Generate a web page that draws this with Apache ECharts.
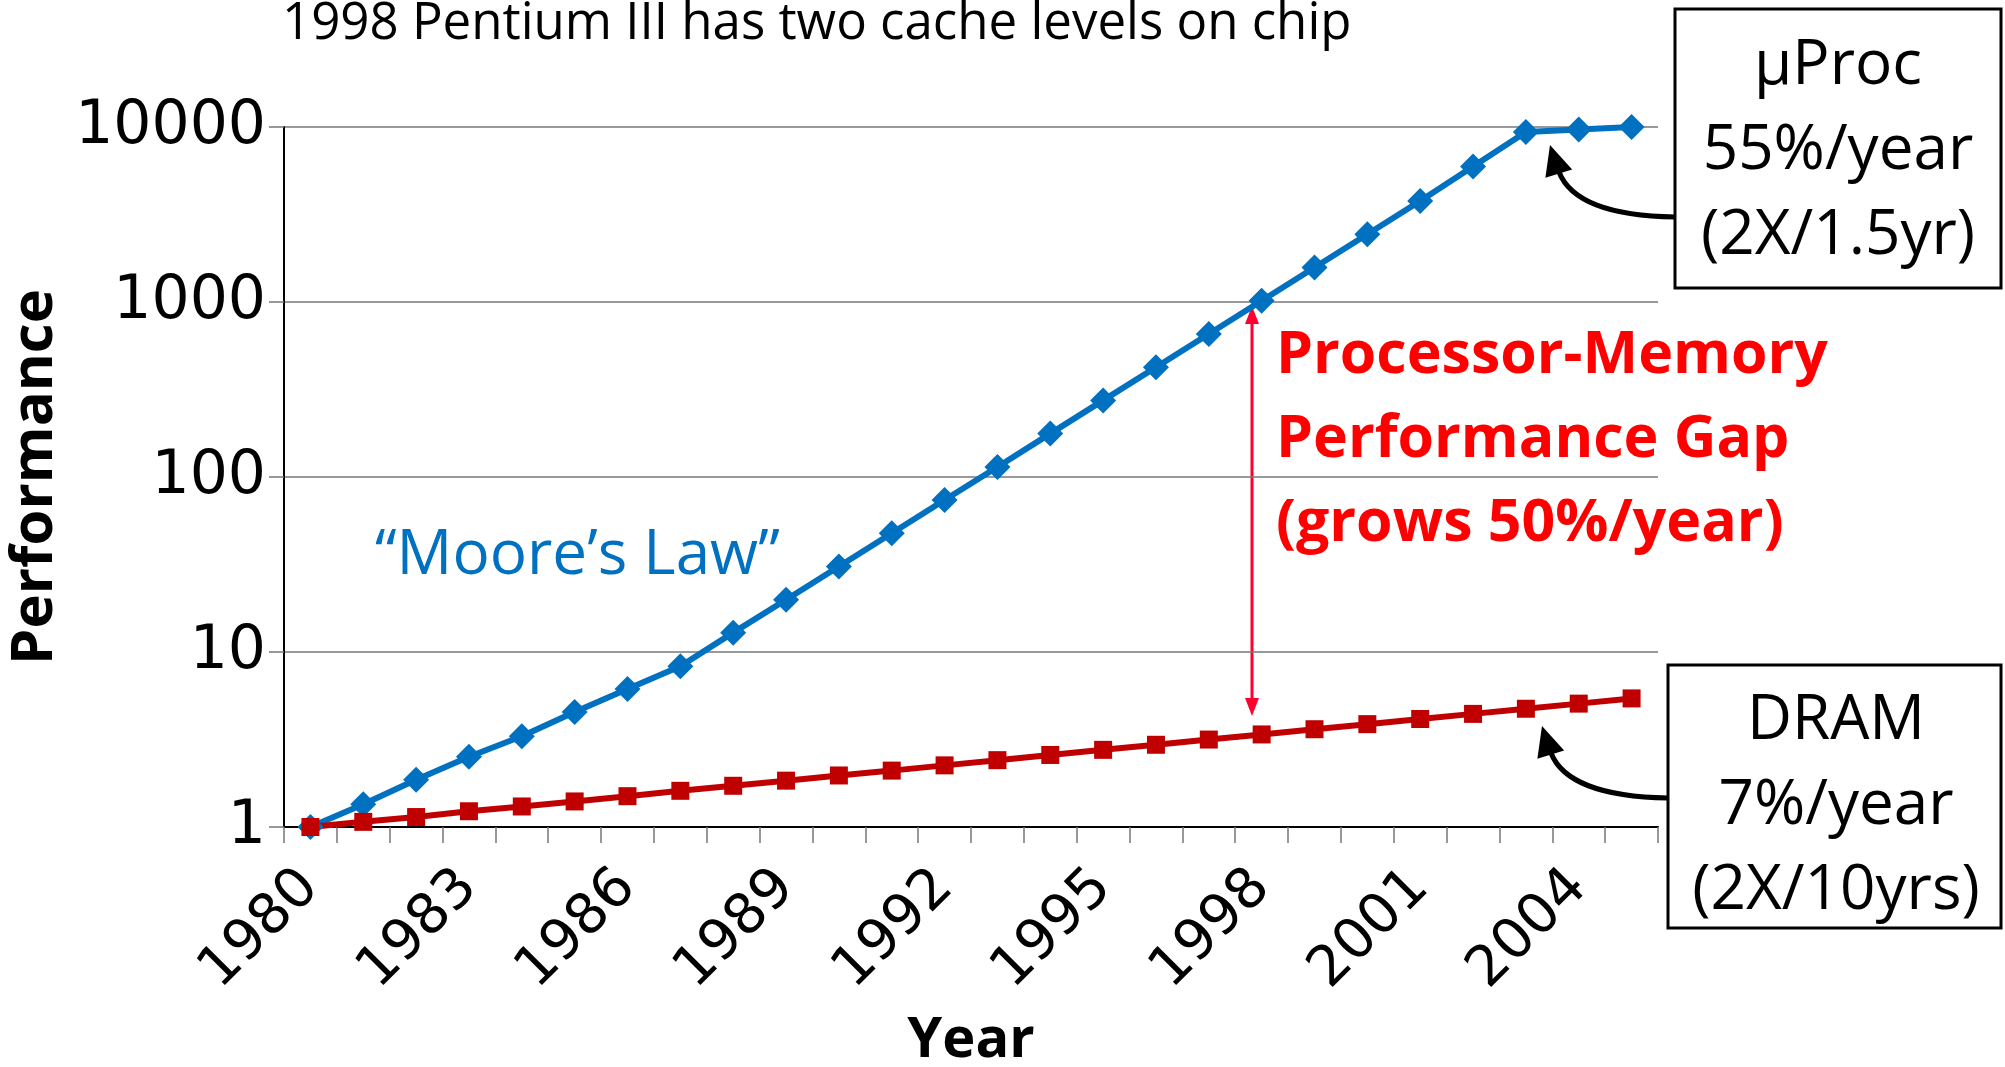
<!DOCTYPE html>
<html>
<head>
<meta charset="utf-8">
<script src="https://cdn.jsdelivr.net/npm/echarts@6/dist/echarts.min.js"></script>
<style>html,body{margin:0;padding:0;background:#fff}</style>
</head>
<body>
<div id="container" style="width: 2005px; height: 1067px"></div>
<script>
// 年份（横轴）
const years = ['1980', '1981', '1982', '1983', '1984', '1985', '1986', '1987', '1988', '1989',
  '1990', '1991', '1992', '1993', '1994', '1995', '1996', '1997', '1998', '1999',
  '2000', '2001', '2002', '2003', '2004', '2005']
// 处理器性能
const procPerf = [1, 1.35, 1.86, 2.52, 3.3, 4.54, 6.14, 8.3, 12.9, 19.9,
  30.8, 47.7, 73.9, 114, 177, 274, 424, 657, 1017, 1574,
  2437, 3774, 5940, 9350, 9670, 10000]
// DRAM 性能
const dramPerf = [1, 1.07, 1.14, 1.23, 1.31, 1.4, 1.5, 1.61, 1.72, 1.84,
  1.97, 2.1, 2.25, 2.41, 2.58, 2.76, 2.95, 3.16, 3.38, 3.62,
  3.87, 4.14, 4.43, 4.74, 5.07, 5.43]
// 纵轴刻度文字
const yTickLabels = ['1', '10', '100', '1000', '10000']

const sans = '"Open Sans", "Noto Sans", sans-serif'

// 箭头的三角形头部
function arrowHead(tx, ty, angle, len, half) {
  const a = angle * Math.PI / 180
  const dx = Math.cos(a), dy = Math.sin(a)
  const bx = tx - dx * len, by = ty - dy * len
  return [[tx, ty], [bx - dy * half, by + dx * half], [bx + dy * half, by - dx * half]]
}

var myChart = echarts.init(document.getElementById('container'))
const option = {
  backgroundColor: '#fff',
  animation: false,
  title: {
    text: '1998 Pentium III has two cache levels on chip',
    left: 277,
    top: -6,
    textStyle: { fontSize: 51, fontWeight: 'normal', color: '#000', fontFamily: sans }
  },
  grid: { left: 284, top: 127, right: 347, bottom: 240, containLabel: false, outerBoundsMode: 'none' },
  xAxis: {
    type: 'category',
    data: years,
    boundaryGap: true,
    name: 'Year',
    nameLocation: 'middle',
    nameGap: 186,
    nameTextStyle: { fontSize: 56, fontWeight: 'bold', color: '#000', fontFamily: sans },
    axisLine: { lineStyle: { color: '#000', width: 2 } },
    axisTick: { show: true, interval: 0, length: 16, lineStyle: { color: '#777', width: 1.5 } },
    axisLabel: {
      interval: 2, rotate: 45, margin: 52,
      fontSize: 56, color: '#000', fontFamily: '"DejaVu Sans", sans-serif'
    },
    splitLine: { show: false }
  },
  yAxis: {
    type: 'log',
    logBase: 10,
    min: 1,
    max: 10000,
    name: 'Performance',
    nameLocation: 'middle',
    nameGap: 214,
    nameTextStyle: { fontSize: 58, fontWeight: 'bold', color: '#000', fontFamily: sans },
    axisLine: { show: true, lineStyle: { color: '#000', width: 2 } },
    axisTick: { show: true, length: 15, lineStyle: { color: '#777', width: 1.5 } },
    axisLabel: {
      margin: 18, fontSize: 60, color: '#000', fontFamily: '"DejaVu Sans", sans-serif',
      formatter: (v) => yTickLabels[Math.round(Math.log10(v))]
    },
    splitLine: { show: true, lineStyle: { color: '#777', width: 1.5 } }
  },
  series: [
    {
      name: 'uProc',
      type: 'line',
      data: procPerf,
      clip: false,
      symbol: 'diamond',
      symbolSize: 26,
      itemStyle: { color: '#0070C0' },
      lineStyle: { color: '#0070C0', width: 6 }
    },
    {
      name: 'DRAM',
      type: 'line',
      data: dramPerf,
      clip: false,
      symbol: 'rect',
      symbolSize: 18,
      itemStyle: { color: '#C00000' },
      lineStyle: { color: '#C00000', width: 6 }
    }
  ],
  graphic: [
    // “Moore’s Law”
    {
      type: 'text', x: 375, y: 556,
      style: { text: '“Moore’s Law”', fontSize: 62, fill: '#0070C0', fontFamily: sans, verticalAlign: 'middle' }
    },
    // 性能差距文字
    {
      type: 'text', x: 1276, y: 440,
      style: {
        text: 'Processor-Memory\nPerformance Gap\n(grows 50%/year)',
        fontSize: 59, fontWeight: 'bold', fill: '#FF0000', fontFamily: sans,
        lineHeight: 84, verticalAlign: 'middle', align: 'left'
      }
    },
    // 红色双向箭头
    {
      type: 'line',
      shape: { x1: 1252, y1: 318, x2: 1252, y2: 704 },
      style: { stroke: '#FF0033', lineWidth: 3 }
    },
    { type: 'polygon', shape: { points: arrowHead(1252, 306, -90, 18, 7) }, style: { fill: '#FF0033' } },
    { type: 'polygon', shape: { points: arrowHead(1252, 716, 90, 18, 7) }, style: { fill: '#FF0033' } },
    // μProc 方框
    {
      type: 'rect', shape: { x: 1675, y: 9, width: 326, height: 279 },
      style: { fill: '#fff', stroke: '#000', lineWidth: 3 }
    },
    {
      type: 'text', x: 1838, y: 151,
      style: {
        text: 'μProc\n55%/year\n(2X/1.5yr)', fontSize: 62, fill: '#000', fontFamily: sans,
        lineHeight: 85, align: 'center', verticalAlign: 'middle'
      }
    },
    // DRAM 方框
    {
      type: 'rect', shape: { x: 1668, y: 665, width: 333, height: 263 },
      style: { fill: '#fff', stroke: '#000', lineWidth: 3 }
    },
    {
      type: 'text', x: 1836, y: 806,
      style: {
        text: 'DRAM\n7%/year\n(2X/10yrs)', fontSize: 62, fill: '#000', fontFamily: sans,
        lineHeight: 85, align: 'center', verticalAlign: 'middle'
      }
    },
    // 黑色弯箭头
    {
      type: 'bezierCurve',
      shape: { x1: 1675, y1: 217, cpx1: 1608, cpy1: 216, cpx2: 1570, cpy2: 200, x2: 1559, y2: 172 },
      style: { stroke: '#000', lineWidth: 5, fill: 'none' }
    },
    { type: 'polygon', shape: { points: arrowHead(1550, 145, -107, 30, 14) }, style: { fill: '#000' } },
    {
      type: 'bezierCurve',
      shape: { x1: 1668, y1: 798, cpx1: 1601, cpy1: 797, cpx2: 1562, cpy2: 781, x2: 1551, y2: 753 },
      style: { stroke: '#000', lineWidth: 5, fill: 'none' }
    },
    { type: 'polygon', shape: { points: arrowHead(1542, 726, -107, 30, 14) }, style: { fill: '#000' } }
  ]
}
myChart.setOption(option)
</script>
</body>
</html>
